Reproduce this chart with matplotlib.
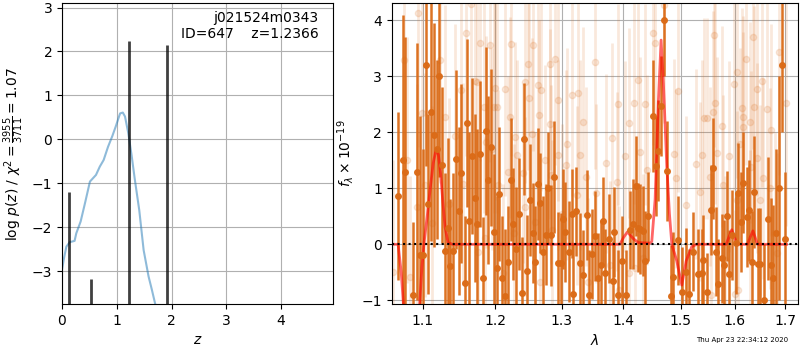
import numpy as np
import matplotlib
matplotlib.use("Agg")
import matplotlib.pyplot as plt
from matplotlib.ticker import NullFormatter, NullLocator

# ---- left panel: chi2 / log p(z)
z_curve = [0.00, 0.037, 0.08, 0.14, 0.23, 0.26, 0.34, 0.42, 0.51, 0.62, 0.69, 0.76,
           0.84, 0.92, 0.98, 1.06, 1.11, 1.15, 1.21, 1.27, 1.33, 1.41, 1.49, 1.58,
           1.64, 1.70, 1.80, 2.00]
logp_curve = [-2.97, -2.70, -2.44, -2.34, -2.31, -2.14, -1.87, -1.45, -0.96, -0.81,
              -0.62, -0.47, -0.17, 0.08, 0.29, 0.59, 0.61, 0.52, 0.14, -0.36, -0.92,
              -1.61, -2.52, -3.12, -3.42, -3.74, -4.30, -5.00]
z_peaks = [0.128, 0.526, 1.217, 1.914]
peak_vals = [-1.19, -3.18, 2.25, 2.14]

# ---- right panel: binned spectrum (dark)
wave = [1.0682, 1.0745, 1.0769, 1.0877, 1.0925, 1.0964, 1.1008, 1.1045, 1.1074, 1.1110,
        1.1154, 1.1187, 1.1222, 1.1262, 1.1303, 1.1340, 1.1371, 1.1412, 1.1453, 1.1490,
        1.1518, 1.1570, 1.1606, 1.1633, 1.1676, 1.1718, 1.1746, 1.1784, 1.1831, 1.1874,
        1.1902, 1.1941, 1.1988, 1.2023, 1.2060, 1.2104, 1.2143, 1.2191, 1.2227, 1.2265,
        1.2305, 1.2349, 1.2389, 1.2428, 1.2473, 1.2518, 1.2554, 1.2593, 1.2639, 1.2669,
        1.2715, 1.2756, 1.2792, 1.2834, 1.2884, 1.2937, 1.2984, 1.3020, 1.3055, 1.3109,
        1.3156, 1.3181, 1.3229, 1.3283, 1.3331, 1.3395, 1.3440, 1.3486, 1.3530, 1.3580,
        1.3628, 1.3666, 1.3694, 1.3760, 1.3821, 1.3848, 1.3914, 1.3980, 1.4038, 1.4111,
        1.4167, 1.4214, 1.4250, 1.4282, 1.4328, 1.4370, 1.4414, 1.4501, 1.4554, 1.4600,
        1.4647, 1.4705, 1.4748, 1.4824, 1.4865, 1.4944, 1.5016, 1.5093, 1.5153, 1.5226,
        1.5318, 1.5381, 1.5410, 1.5484, 1.5548, 1.5597, 1.5647, 1.5691, 1.5755, 1.5805,
        1.5862, 1.5900, 1.5957, 1.6023, 1.6073, 1.6119, 1.6169, 1.6236, 1.6286, 1.6333,
        1.6384, 1.6451, 1.6498, 1.6582, 1.6662, 1.6710, 1.6760, 1.6820, 1.6880, 1.6940,
        1.7000]
flux = [0.86, 1.50, 1.30, -0.90, 1.30, -0.20, -0.20, 3.20, 0.72, 2.36,
        1.95, 1.70, 3.00, 1.42, -0.12, 0.30, -0.39, -0.12, 1.52, 0.60,
        1.27, -0.70, 2.17, 0.41, 1.58, 0.83, 0.36, 1.61, -0.61, 2.03,
        1.15, 1.73, 0.22, -0.43, 0.90, -0.60, -0.93, -0.32, 1.15, 0.36,
        -0.08, 0.54, -0.87, 1.88, -0.47, 0.79, 0.20, -0.32, 1.08, 0.74,
        -0.14, 0.17, 1.00, 0.16, 1.21, -0.33, -0.34, 0.45, 0.22, -0.13,
        0.55, -0.89, 0.59, -0.34, -0.55, 0.52, -0.90, -0.17, 0.15, -0.60,
        -0.37, 0.41, -0.52, 0.10, -0.65, 0.22, -0.91, -0.30, -0.90, 0.26,
        0.36, 1.04, 0.30, 0.27, 0.24, -0.30, 0.50, 2.30, 1.40, 1.67,
        2.47, 4.00, 1.31, -0.92, -0.58, 0.07, -0.85, -0.50, -0.88, -0.13,
        -0.53, -0.52, -0.28, -0.86, 0.61, 1.36, -0.13, -0.71, -0.25, -0.37,
        0.51, -0.54, 0.17, 0.02, 0.91, 0.40, 1.10, 0.49, 0.61, -0.31,
        0.94, -0.35, -0.36, -0.99, 0.46, -0.37, -0.60, 0.20, 1.00, 3.20,
        0.10]
flux_err = [1.5, 2.6, 2.4, 1.3, 2.3, 2.5, 1.9, 1.8, 1.6, 2.3,
            2.0, 1.6, 1.8, 1.4, 1.4, 1.6, 1.2, 1.4, 1.6, 1.5,
            1.6, 1.2, 1.5, 1.6, 1.4, 1.5, 1.7, 1.3, 1.1, 1.5,
            1.5, 1.4, 1.4, 1.3, 1.2, 1.1, 1.2, 1.0, 1.1, 1.0,
            1.1, 1.0, 1.0, 1.0, 1.0, 1.0, 0.9, 1.0, 1.0, 0.9,
            1.0, 0.9, 1.0, 0.9, 1.0, 0.9, 0.9, 0.9, 0.9, 0.9,
            0.8, 0.9, 0.8, 0.9, 0.8, 0.8, 0.8, 0.8, 0.8, 0.8,
            0.8, 0.8, 0.8, 0.8, 0.7, 0.8, 0.8, 0.8, 0.8, 0.7,
            0.8, 0.9, 0.8, 0.8, 0.8, 0.9, 0.8, 1.0, 0.9, 0.9,
            0.9, 1.0, 0.9, 0.9, 0.8, 0.8, 0.8, 0.8, 0.8, 0.7,
            0.8, 0.8, 0.8, 0.7, 0.8, 0.9, 0.8, 0.8, 0.8, 0.8,
            0.8, 0.8, 0.8, 0.9, 0.9, 0.9, 0.9, 0.9, 0.9, 0.9,
            1.0, 1.0, 1.0, 1.0, 1.1, 1.2, 1.3, 1.5, 2.0, 1.2,
            1.2]

# ---- unbinned spectrum (faint)
wave_raw = [1.062, 1.075, 1.080, 1.0833, 1.092, 1.094, 1.0988, 1.103, 1.112, 1.123,
            1.130, 1.135, 1.144, 1.152, 1.154, 1.159, 1.166, 1.172, 1.174, 1.176,
            1.178, 1.184, 1.185, 1.187, 1.193, 1.195, 1.198, 1.200, 1.2023, 1.204,
            1.212, 1.215, 1.2191, 1.2216, 1.223, 1.227, 1.229, 1.232, 1.2413, 1.2437,
            1.2445, 1.248, 1.250, 1.254, 1.256, 1.259, 1.264, 1.265, 1.267, 1.268,
            1.274, 1.281, 1.282, 1.284, 1.285, 1.290, 1.294, 1.2945, 1.300, 1.306,
            1.308, 1.316, 1.3245, 1.326, 1.329, 1.333, 1.338, 1.342, 1.353, 1.355,
            1.371, 1.3777, 1.381, 1.389, 1.391, 1.393, 1.403, 1.409, 1.410, 1.417,
            1.419, 1.425, 1.428, 1.4328, 1.436, 1.440, 1.451, 1.454, 1.469, 1.488,
            1.492, 1.495, 1.509, 1.527, 1.535, 1.538, 1.542, 1.547, 1.554, 1.556,
            1.558, 1.560, 1.563, 1.567, 1.576, 1.578, 1.581, 1.589, 1.598, 1.600,
            1.604, 1.605, 1.606, 1.611, 1.614, 1.616, 1.617, 1.622, 1.629, 1.630,
            1.631, 1.636, 1.638, 1.643, 1.644, 1.650, 1.653, 1.656, 1.663, 1.670,
            1.672, 1.680, 1.683, 1.688, 1.702]
flux_raw = [-0.50, 3.30, 1.50, -0.58, 0.67, 4.14, 2.34, 1.06, 0.38, 3.29,
            2.28, 0.72, 1.93, 2.76, 1.08, 3.77, 4.30, 2.92, 2.90, -0.13,
            3.59, 2.46, 0.11, 1.83, 3.57, 1.70, 2.46, 2.80, 2.46, 1.06,
            -0.52, 2.77, 1.30, 2.27, 3.58, 0.20, 1.92, 1.60, 1.27, 0.67,
            2.90, 3.23, 2.61, 1.98, 3.56, 0.40, 2.85, 2.31, -0.67, 2.76,
            1.50, 3.23, 2.15, 1.24, 0.26, 3.32, 2.58, 1.60, 0.55, 1.42,
            1.80, 2.67, 0.88, 2.70, 1.60, 2.19, 1.21, -0.67, 3.25, 0.91,
            1.45, -0.37, 1.90, 1.12, 2.50, -0.82, 1.57, -0.52, 2.17, 2.52,
            -0.43, 2.93, 1.65, -0.25, 2.50, 1.33, 3.77, 3.60, 4.27, 1.61,
            1.18, 2.74, 0.70, 1.43, 0.94, 1.60, 2.25, 2.25, 1.21, -0.90,
            2.37, 3.74, 2.52, 1.64, 2.11, 1.06, -0.28, 1.57, 2.87, -0.88,
            0.79, 3.08, -0.82, 1.80, 2.43, 2.28, 2.09, 3.32, 2.18, 0.08,
            1.39, 3.71, 2.46, 2.77, 1.54, 0.79, 2.92, 1.18, 2.41, 1.00,
            2.04, 0.20, -0.16, 3.44, 2.52]
flux_raw_err = [2.0, 2.4, 2.2, 1.8, 2.2, 2.4, 2.3, 2.0, 2.1, 2.2,
                2.0, 1.9, 2.0, 2.1, 1.8, 2.2, 2.3, 2.0, 2.1, 1.7,
                2.1, 1.9, 1.8, 1.9, 2.1, 1.8, 1.9, 2.0, 1.9, 1.7,
                1.6, 1.9, 1.7, 1.8, 2.0, 1.6, 1.7, 1.7, 1.6, 1.6,
                1.8, 1.9, 1.8, 1.7, 1.9, 1.6, 1.8, 1.7, 1.6, 1.8,
                1.7, 1.9, 1.7, 1.6, 1.6, 1.9, 1.8, 1.7, 1.6, 1.7,
                1.7, 1.8, 1.6, 1.8, 1.7, 1.7, 1.6, 1.5, 1.9, 1.6,
                1.6, 1.5, 1.7, 1.6, 1.8, 1.5, 1.7, 1.5, 1.7, 1.8,
                1.5, 1.9, 1.7, 1.5, 1.8, 1.7, 2.0, 1.9, 2.1, 1.7,
                1.6, 1.8, 1.6, 1.7, 1.6, 1.7, 1.8, 1.8, 1.6, 1.5,
                1.8, 2.0, 1.8, 1.7, 1.8, 1.6, 1.5, 1.7, 1.9, 1.5,
                1.6, 1.9, 1.5, 1.7, 1.8, 1.8, 1.7, 1.9, 1.8, 1.6,
                1.7, 2.0, 1.8, 1.9, 1.7, 1.7, 1.9, 1.8, 1.9, 1.8,
                1.9, 1.8, 1.8, 2.2, 2.2]

# ---- best-fit model
wave_model = [1.060, 1.068, 1.072, 1.076, 1.087, 1.095, 1.099, 1.102, 1.106, 1.110,
              1.114, 1.118, 1.121, 1.124, 1.127, 1.130, 1.134, 1.140, 1.394, 1.400,
              1.4066, 1.4117, 1.4167, 1.425, 1.4454, 1.4484, 1.4542, 1.4600, 1.4647,
              1.4688, 1.4748, 1.4794, 1.4837, 1.4926, 1.5016, 1.5094, 1.5197, 1.5289,
              1.5837, 1.5890, 1.5945, 1.5995, 1.6042, 1.6247, 1.6300, 1.6354, 1.6400,
              1.6443, 1.703]
flux_model = [0.0, 0.0, -0.5, -1.3, -2.0, -1.3, -0.4, 0.05, 0.5, 1.0,
              1.45, 1.70, 1.60, 1.25, 0.75, 0.30, 0.03, 0.0, 0.0, 0.12,
              0.22, 0.16, 0.10, 0.03, 0.02, 0.05, 0.80, 2.58, 3.65,
              2.87, 1.39, 0.55, 0.0, -0.30, -0.73, -0.30, -0.04, 0.0,
              0.0, 0.13, 0.26, 0.13, 0.0, 0.0, 0.12, 0.24, 0.12,
              0.0, 0.0]

obj_name = "j021524m0343"
obj_id = 647
z_best = 1.2366
chi2_num, chi2_den = 3955, 3711
stamp = "Thu Apr 23 22:34:12 2020"

fig = plt.figure(figsize=(8, 3.5), dpi=100)
ax1 = fig.add_axes([0.0775, 0.131, 0.339, 0.86])
ax2 = fig.add_axes([0.4896, 0.131, 0.508, 0.86])

ax1.plot(z_curve, logp_curve, color='tab:blue', alpha=0.5, lw=1.5)
ax1.vlines(z_peaks, -10, peak_vals, color='k', alpha=0.75, lw=2)
ax1.set_xlim(0, 4.95)
ax1.set_ylim(-3.75, 3.1)
ax1.set_xticks([0, 1, 2, 3, 4])
ax1.set_yticks([-3, -2, -1, 0, 1, 2, 3])
ax1.grid(True)
ax1.set_xlabel(r'$z$')
ax1.set_ylabel(r'$\log\,p(z)$' + ' / ' +
               r'$\chi^2=\frac{%d}{%d}=%.2f$' % (chi2_num, chi2_den, chi2_num / chi2_den))
ax1.text(0.945, 0.975, '%s\nID=%d    z=%.4f' % (obj_name, obj_id, z_best),
         ha='right', va='top', transform=ax1.transAxes, fontsize=10)

col = (0.86, 0.42, 0.09)
ax2.errorbar(wave_raw, flux_raw, yerr=flux_raw_err, color=col, alpha=0.15,
             marker='o', ms=4.5, linestyle='None', elinewidth=2)
ax2.errorbar(wave, flux, yerr=flux_err, color=col, alpha=0.95,
             marker='o', ms=4, linestyle='None', elinewidth=1.8)
ax2.plot(wave_model, flux_model, color='r', alpha=0.6, lw=2)
ax2.axhline(0, color='k', ls=':', lw=1.5)

ax2.set_xscale('log')
ax2.set_xlim(1.0598, 1.7266)
ax2.set_ylim(-1.07, 4.31)
ax2.set_xticks([1.1, 1.2, 1.3, 1.4, 1.5, 1.6, 1.7])
ax2.set_xticklabels(['1.1', '1.2', '1.3', '1.4', '1.5', '1.6', '1.7'])
ax2.xaxis.set_minor_locator(NullLocator())
ax2.xaxis.set_minor_formatter(NullFormatter())
ax2.set_yticks([-1, 0, 1, 2, 3, 4])
ax2.grid(True)
ax2.set_xlabel(r'$\lambda$')
ax2.set_ylabel(r'$f_\lambda\times10^{-19}$')

fig.text(0.985, 0.02, stamp, ha='right', va='bottom', fontsize=5)

fig.savefig('out.png', dpi=100)
